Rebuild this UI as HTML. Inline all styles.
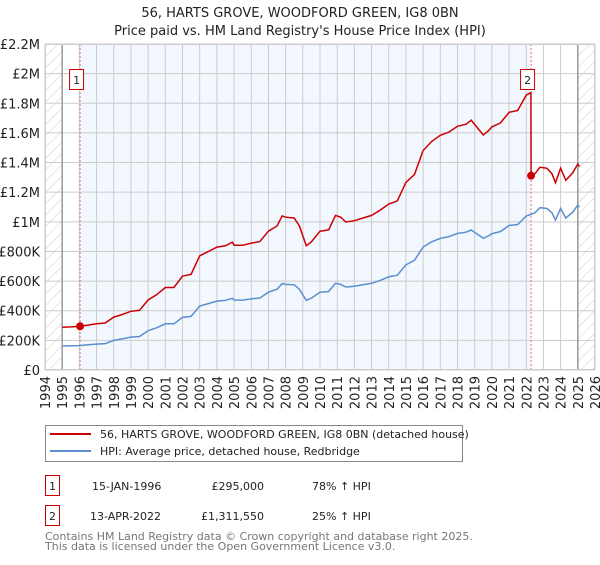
<!DOCTYPE html>
<html><head><meta charset="utf-8"><style>
body{margin:0;background:#fff;font-family:"Liberation Sans","DejaVu Sans",sans-serif;}
svg text{font-family:"DejaVu Sans","Liberation Sans",sans-serif;}
</style></head><body>
<svg id="chart" width="600" height="560" viewBox="0 0 600 560">
<defs><pattern id="hatch" width="8" height="8" patternUnits="userSpaceOnUse" patternTransform="rotate(45)"><line x1="0" y1="0" x2="0" y2="8" stroke="#ccc" stroke-width="1"/></pattern></defs>
<text x="300" y="17" text-anchor="middle" font-size="13" fill="#222">56, HARTS GROVE, WOODFORD GREEN, IG8 0BN</text>
<text x="300" y="35" text-anchor="middle" font-size="13" fill="#222">Price paid vs. HM Land Registry's House Price Index (HPI)</text>
<g id="plot"></g>
<g>
<rect x="45.5" y="425.5" width="417" height="36" fill="#fff" stroke="#888"/>
<line x1="50" y1="434" x2="91" y2="434" stroke="#cc0000" stroke-width="2"/>
<text x="100" y="438" font-size="11" fill="#222">56, HARTS GROVE, WOODFORD GREEN, IG8 0BN (detached house)</text>
<line x1="50" y1="451" x2="91" y2="451" stroke="#5b8fd0" stroke-width="2"/>
<text x="100" y="455" font-size="11" fill="#222">HPI: Average price, detached house, Redbridge</text>
</g>
<g font-size="11" fill="#222">
<rect x="45.5" y="475.5" width="14" height="20" fill="#fff" stroke="#cc0000"/>
<text x="52.5" y="490" text-anchor="middle">1</text>
<text x="92" y="490">15-JAN-1996</text><text x="264" y="490" text-anchor="end">£295,000</text><text x="312" y="490">78% ↑ HPI</text>
<rect x="45.5" y="505.5" width="14" height="20" fill="#fff" stroke="#cc0000"/>
<text x="52.5" y="520" text-anchor="middle">2</text>
<text x="90" y="520">13-APR-2022</text><text x="264" y="520" text-anchor="end">£1,311,550</text><text x="312" y="520">25% ↑ HPI</text>
</g>
<text x="45" y="540" font-size="11" fill="#777">Contains HM Land Registry data © Crown copyright and database right 2025.</text>
<text x="45" y="550" font-size="11" fill="#777">This data is licensed under the Open Government Licence v3.0.</text>
</svg>
<script>
const hpiDates=[1995,1995.5,1996,1996.5,1997,1997.5,1998,1998.5,1999,1999.5,2000,2000.5,2001,2001.5,2002,2002.5,2003,2003.5,2004,2004.5,2004.9,2005,2005.5,2006,2006.5,2007,2007.5,2007.8,2008,2008.5,2008.8,2009.2,2009.5,2010,2010.5,2010.9,2011.2,2011.5,2012,2012.5,2013,2013.5,2014,2014.5,2015,2015.5,2016,2016.5,2017,2017.5,2018,2018.5,2018.8,2019.5,2019.8,2020,2020.5,2021,2021.5,2022,2022.28,2022.5,2022.8,2023.2,2023.5,2023.7,2024,2024.3,2024.7,2025,2025.1];
const hpiValues=[162000,163000,165000,170000,175000,178000,200000,210000,222000,226000,265000,285000,312000,312000,355000,362000,432000,448000,465000,470000,484000,472000,472000,480000,486000,525000,545000,583000,578000,575000,545000,470000,485000,525000,530000,585000,578000,560000,565000,575000,585000,605000,628000,640000,710000,740000,830000,865000,888000,900000,922000,930000,945000,889000,905000,920000,935000,975000,982000,1040000,1050000,1060000,1095000,1090000,1060000,1012000,1090000,1025000,1065000,1113000,1100000];
const sales=[{date:1996.04,price:295000,label:"1"},{date:2022.28,price:1311550,label:"2"}];
const yTicks=[0,200000,400000,600000,800000,1000000,1200000,1400000,1600000,1800000,2000000,2200000];
const yTickLabels=["£0","£200K","£400K","£600K","£800K","£1M","£1.2M","£1.4M","£1.6M","£1.8M","£2M","£2.2M"];
const xTicks=[1994,1995,1996,1997,1998,1999,2000,2001,2002,2003,2004,2005,2006,2007,2008,2009,2010,2011,2012,2013,2014,2015,2016,2017,2018,2019,2020,2021,2022,2023,2024,2025,2026];
const X0=45,X1=595,Y0=370,Y1=44;
const xs=t=>X0+(t-1994)/32*(X1-X0);
const ys=v=>Y0-v/2200000*(Y0-Y1);
const NS="http://www.w3.org/2000/svg";
const g=document.getElementById('plot');
function mk(tag,attrs,parent){const e=document.createElementNS(NS,tag);for(const k in attrs)e.setAttribute(k,attrs[k]);(parent||g).appendChild(e);return e;}
function hpiAt(t){if(t<=hpiDates[0])return hpiValues[0];for(let i=1;i<hpiDates.length;i++){if(t<=hpiDates[i]){const f=(t-hpiDates[i-1])/(hpiDates[i]-hpiDates[i-1]);return hpiValues[i-1]+f*(hpiValues[i]-hpiValues[i-1]);}}return hpiValues[hpiValues.length-1];}
let e=mk('rect',{x:X0,y:Y1,width:X1-X0,height:Y0-Y1,fill:'#fff'});


e=mk('rect',{x:xs(sales[0].date),y:Y1,width:xs(sales[1].date)-xs(sales[0].date),height:Y0-Y1,fill:'#f3f7fe'});


e=mk('rect',{x:X0,y:Y1,width:xs(1995)-X0,height:Y0-Y1,fill:'url(#hatch)'});


e=mk('rect',{x:xs(2025),y:Y1,width:X1-xs(2025),height:Y0-Y1,fill:'url(#hatch)'});


yTicks.forEach((v,i)=>{
 const l=mk('line',{x1:X0,x2:X1,y1:ys(v),y2:ys(v),stroke:'#ccc','stroke-width':1});
 
 
 const t=mk('text',{x:X0-5,y:ys(v)+5,'text-anchor':'end','font-size':13,fill:'#222'});
 
 
 t.textContent=yTickLabels[i];
});
xTicks.forEach(yr=>{
 const l=mk('line',{x1:xs(yr),x2:xs(yr),y1:Y1,y2:Y0,stroke:'#ccc','stroke-width':1});
 
 
 const t=mk('text',{x:0,y:0,'text-anchor':'end','font-size':13,fill:'#222',transform:`translate(${xs(yr)+5},${Y0+6}) rotate(-90)`});
 
 
 t.textContent=yr;
});
[1995,2025].forEach(yr=>{const l=mk('line',{x1:xs(yr),x2:xs(yr),y1:Y1,y2:Y0,stroke:'#999','stroke-width':1.5});
 
 });
sales.forEach(s=>{const l=mk('line',{x1:xs(s.date),x2:xs(s.date),y1:Y1,y2:Y0,stroke:'#f07070','stroke-width':1,'stroke-dasharray':'2,2'});
 
 });
let d='';hpiDates.forEach((t,i)=>{d+=(i?'L':'M')+xs(t).toFixed(1)+','+ys(hpiValues[i]).toFixed(1);});
e=mk('path',{d:d,fill:'none',stroke:'#5b8fd0','stroke-width':1.5});


function propVal(t){const s=t<sales[1].date?sales[0]:sales[1];return s.price*hpiAt(t)/hpiAt(s.date);}
let pts=[];hpiDates.forEach(t=>{if(t<sales[1].date)pts.push([t,propVal(t)]);});
pts.push([sales[1].date-0.01,propVal(sales[1].date-0.01)]);
pts.push([sales[1].date,sales[1].price]);
hpiDates.forEach(t=>{if(t>sales[1].date)pts.push([t,propVal(t)]);});
pts.sort((a,b)=>a[0]-b[0]);
d='';pts.forEach((p,i)=>{d+=(i?'L':'M')+xs(p[0]).toFixed(1)+','+ys(p[1]).toFixed(1);});
e=mk('path',{d:d,fill:'none',stroke:'#cc0000','stroke-width':1.5});


sales.forEach(s=>{
 const c=mk('circle',{cx:xs(s.date),cy:ys(s.price),r:4,fill:'#cc0000'});
 
 
 const r=mk('rect',{x:xs(s.date)-10.5,y:69.5,width:14,height:20,fill:'#fff',stroke:'#cc0000'});
 
 
 const t=mk('text',{x:xs(s.date)-3.5,y:84,'text-anchor':'middle','font-size':11,fill:'#222'});
 
 
 t.textContent=s.label;
});
e=mk('rect',{x:X0+0.5,y:Y1+0.5,width:X1-X0-1,height:Y0-Y1-1,fill:'none',stroke:'#ccc'});


</script>
</body></html>
